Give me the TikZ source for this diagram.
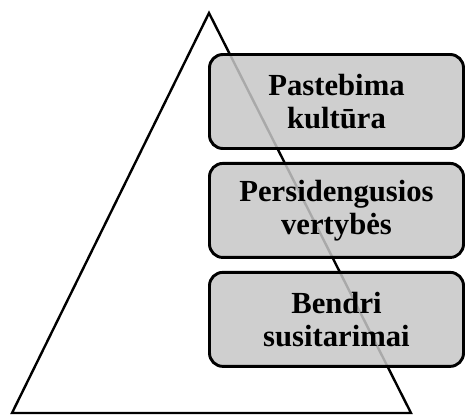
\documentclass[tikz,border=0pt]{standalone}
\usepackage{fontspec}
\setmainfont{Liberation Serif}
\usetikzlibrary{positioning}

\begin{document}
\begin{tikzpicture}[x=0.75pt, y=-0.75pt, font=\bfseries\fontsize{23}{25}\selectfont,
    lygis/.style={draw, line width=2.2pt, rounded corners=10pt, fill=black!22,
      fill opacity=0.85, text opacity=1, minimum width=190.5pt, minimum height=70.5pt,
      inner sep=0pt, align=center}]
    \useasboundingbox (0,0) rectangle (467,414);
    \coordinate (virsus) at (209,13);
    \coordinate (kaire) at (12,413);
    \coordinate (desine) at (411,413);
    \draw[line width=1.8pt, line join=miter] (virsus) -- (kaire) -- (desine) -- cycle;

    \node[lygis] (matoma) at (336.5,101.5) {Pastebima\\kultūra};
    \node[lygis, below=9pt of matoma] (vertybes) {Persidengusios\\vertybės};
    \node[lygis, below=9pt of vertybes] (susitarimai) {Bendri\\susitarimai};
\end{tikzpicture}
\end{document}
